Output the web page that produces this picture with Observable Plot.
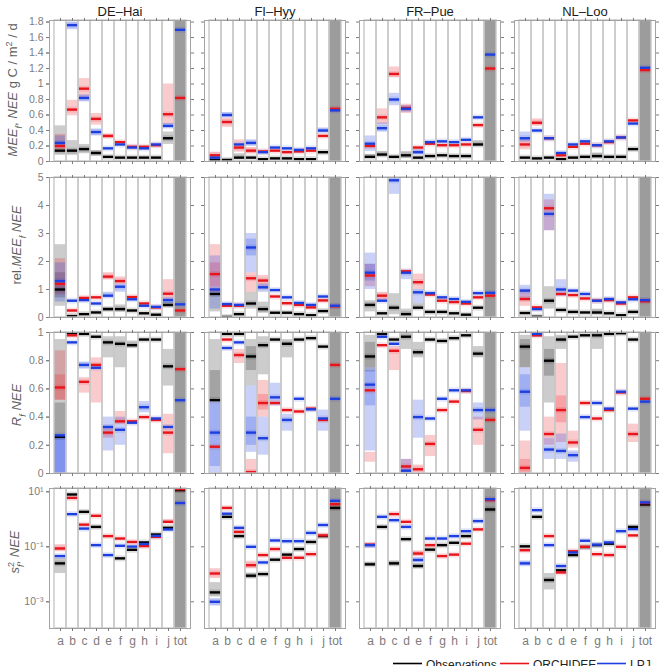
<!DOCTYPE html>
<html>
<head>
<meta charset="utf-8">
<script src="https://cdn.jsdelivr.net/npm/d3@7"></script>
<script src="https://cdn.jsdelivr.net/npm/@observablehq/plot@0.6"></script>
<style>
  html, body { margin: 0; padding: 0; background: #fff; overflow: hidden; width: 663px; height: 666px; }
  #chart { position: relative; width: 663px; height: 666px; font-family: "Liberation Sans", Arial, Helvetica, sans-serif; }
  #chart svg { position: absolute; left: 0; display: block; }
</style>
</head>
<body>
<div id="chart"></div>
<script>
// Sites (panel columns) and flux partitioning categories (bars within a panel)
const sites = ["DE–Hai", "FI–Hyy", "FR–Pue", "NL–Loo"];
const cats = ["a", "b", "c", "d", "e", "f", "g", "h", "i", "j", "tot"];

// ---- Row 1: MEE_f and NEE, g C / m2 / d (one list of 11 values per site) ----
const meeObs = [
  [0.14, 0.14, 0.16, 0.11, 0.06, 0.05, 0.05, 0.05, 0.05, 0.30, null],
  [0.02, 0.02, 0.05, 0.05, 0.03, 0.04, 0.04, 0.03, 0.03, 0.12, null],
  [0.06, 0.09, 0.06, 0.08, 0.05, 0.07, 0.08, 0.07, 0.07, 0.22, null],
  [0.05, 0.04, 0.05, 0.03, 0.05, 0.06, 0.07, 0.06, 0.06, 0.16, null]
];
const meeOrc = [
  [0.20, 0.67, 0.94, 0.55, 0.33, 0.25, 0.19, 0.19, 0.21, 0.61, 0.82],
  [0.08, 0.51, 0.18, 0.14, 0.13, 0.14, 0.12, 0.13, 0.14, 0.33, 0.68],
  [0.20, 0.57, 1.13, 0.69, 0.18, 0.23, 0.21, 0.21, 0.22, 0.47, 1.20],
  [0.22, 0.50, 0.30, 0.08, 0.19, 0.23, 0.21, 0.25, 0.31, 0.53, 1.18]
];
const meeLpj = [
  [0.24, 1.76, 0.82, 0.38, 0.17, 0.22, 0.18, 0.17, 0.22, 0.46, 1.70],
  [0.05, 0.60, 0.22, 0.24, 0.12, 0.18, 0.17, 0.15, 0.17, 0.40, 0.66],
  [0.23, 0.43, 0.80, 0.68, 0.12, 0.25, 0.26, 0.25, 0.28, 0.57, 1.38],
  [0.30, 0.40, 0.30, 0.11, 0.22, 0.26, 0.21, 0.26, 0.31, 0.49, 1.21]
];
// uncertainty ranges: [site index, category, low, high]
const meeObsBand = [[0,"a",0.08,0.46],[0,"b",0.08,0.27],[0,"c",0.10,0.22],[0,"d",0.07,0.14],[0,"j",0.22,0.38],
  [1,"c",0.03,0.10],[2,"a",0.04,0.09],[2,"b",0.06,0.13],[2,"d",0.04,0.13],[2,"j",0.19,0.27],[3,"g",0.04,0.11]];
const meeOrcBand = [[0,"a",0.15,0.35],[0,"b",0.59,0.79],[0,"c",0.82,1.07],[0,"d",0.47,0.62],[0,"e",0.30,0.35],[0,"j",0.48,1.0],
  [1,"a",0.04,0.12],[1,"b",0.44,0.56],[1,"c",0.12,0.28],[1,"d",0.10,0.18],
  [2,"b",0.48,0.68],[2,"c",1.08,1.22],[2,"d",0.62,0.74],[3,"a",0.15,0.28],[3,"b",0.46,0.55]];
const meeLpjBand = [[0,"a",0.18,0.33],[0,"b",1.70,1.80],[0,"c",0.77,0.86],[0,"d",0.33,0.42],[0,"j",0.43,0.49],
  [1,"a",0.02,0.08],[1,"b",0.57,0.63],[1,"d",0.20,0.28],[1,"j",0.37,0.43],
  [2,"a",0.13,0.33],[2,"b",0.38,0.50],[2,"c",0.72,0.88],[2,"d",0.64,0.72],[2,"e",0.09,0.15],[3,"a",0.25,0.38]];

// ---- Row 2: relative MEE_f of NEE ----
const relObs = [
  [1.00, 0.05, 0.12, 0.18, 0.30, 0.30, 0.25, 0.15, 0.10, 0.45, null],
  [0.84, 0.02, 0.12, 0.50, 0.30, 0.17, 0.17, 0.12, 0.08, 0.23, null],
  [0.45, 0.15, 0.35, 0.12, 0.35, 0.20, 0.20, 0.15, 0.10, 0.35, null],
  [0.16, 0.03, 0.60, 0.27, 0.20, 0.18, 0.18, 0.15, 0.08, 0.20, null]
];
const relOrc = [
  [1.20, 0.25, 0.70, 0.72, 1.46, 1.30, 0.73, 0.50, 0.36, 0.85, 0.25],
  [1.55, 0.42, 0.42, 1.40, 1.32, 0.75, 0.51, 0.45, 0.36, 0.61, 0.40],
  [1.50, 0.78, null, 1.65, 1.26, 0.82, 0.60, 0.55, 0.50, 0.72, 0.78],
  [0.66, 0.36, 3.90, 0.84, 0.80, 0.68, 0.60, 0.62, 0.50, 0.72, 0.58]
];
const relLpj = [
  [1.30, 0.60, 0.62, 0.50, 0.78, 1.10, 0.65, 0.42, 0.38, 0.62, 0.47],
  [1.00, 0.48, 0.45, 2.50, 1.08, 0.98, 0.72, 0.52, 0.45, 0.75, 0.42],
  [1.60, 0.60, 4.90, 1.60, 0.90, 0.87, 0.72, 0.66, 0.56, 0.87, 0.88],
  [0.96, 0.30, 3.70, 1.00, 0.96, 0.84, 0.60, 0.66, 0.54, 0.65, 0.62]
];
const relObsBand = [[0,"a",0.4,2.6],[0,"a",0.7,1.6],[0,"e",0.22,0.36],[0,"f",0.2,0.45],[0,"j",0.35,0.55],
  [1,"a",0.2,1.0],[1,"d",0.3,0.9],[1,"e",0.15,0.55],[2,"a",0.2,0.6],[2,"c",0.1,0.85],[2,"d",0.05,0.3],[2,"e",0.3,0.5],
  [3,"c",0.3,1.1],[3,"g",0.1,0.3]];
const relOrcBand = [[0,"a",0.8,2.1],[0,"e",1.35,1.6],[0,"f",1.2,1.45],[0,"j",0.6,1.35],
  [1,"a",0.9,2.6],[1,"a",1.1,1.95],[1,"d",0.9,1.6],[1,"e",1.0,1.5],[2,"a",1.1,1.9],[2,"b",0.6,0.9],[2,"e",1.0,1.55],
  [3,"a",0.4,1.0],[3,"c",3.1,4.2]];
const relLpjBand = [[0,"a",0.55,1.95],[0,"e",0.7,0.9],[0,"f",0.9,1.2],[0,"j",0.5,0.7],
  [1,"a",0.3,2.2],[1,"d",1.6,3.0],[1,"d",2.2,2.8],[1,"e",0.9,1.2],[2,"a",1.0,2.3],[2,"a",1.3,1.9],[2,"c",4.4,5.0],[2,"d",1.35,1.7],[2,"e",0.5,1.0],
  [3,"a",0.6,1.15],[3,"c",3.1,4.4],[3,"d",0.75,1.35]];

// ---- Row 3: R_f NEE ----
const rfObs = [
  [0.26, 0.995, 0.99, 0.97, 0.93, 0.92, 0.91, 0.95, 0.95, 0.76, null],
  [0.52, 0.99, 0.99, 0.83, 0.91, 0.95, 0.92, 0.95, 0.96, 0.90, null],
  [0.83, 0.99, 0.95, 0.97, 0.86, 0.95, 0.94, 0.96, 0.98, 0.85, null],
  [0.90, 0.99, 0.80, 0.95, 0.97, 0.98, 0.98, 0.99, 0.995, 0.95, null]
];
const rfOrc = [
  [0.61, 0.98, 0.65, 0.77, 0.29, 0.37, 0.37, 0.40, 0.38, 0.29, 0.74],
  [0.19, 0.95, 0.84, 0.01, 0.50, 0.50, 0.45, 0.44, 0.46, 0.38, 0.77],
  [0.59, 0.91, 0.87, 0.05, 0.03, 0.21, 0.45, 0.51, 0.585, 0.31, 0.38],
  [0.04, 0.98, 0.28, 0.45, 0.22, 0.50, 0.39, 0.45, 0.575, 0.28, 0.53]
];
const rfLpj = [
  [0.27, 0.93, 0.77, 0.75, 0.33, 0.31, 0.36, 0.47, 0.39, 0.33, 0.52],
  [0.29, 0.89, 0.93, 0.29, 0.25, 0.54, 0.38, 0.53, 0.455, 0.39, 0.53],
  [0.63, 0.97, 0.92, 0.02, 0.40, 0.39, 0.53, 0.59, 0.59, 0.45, 0.45],
  [0.58, 0.99, 0.17, 0.16, 0.13, 0.40, 0.50, 0.46, 0.58, 0.46, 0.51]
];
const rfObsBand = [[0,"a",0.25,0.95],[0,"a",0.25,0.5],[0,"e",0.82,0.97],[0,"f",0.75,0.97],[0,"g",0.89,0.94],[0,"j",0.62,0.88],
  [1,"a",0.52,0.95],[1,"a",0.52,0.73],[1,"d",0.62,0.95],[1,"d",0.73,0.9],[1,"e",0.7,0.97],[1,"g",0.82,0.95],
  [2,"a",0.72,0.98],[2,"a",0.75,0.93],[2,"d",0.88,1.0],[2,"e",0.82,0.93],[2,"j",0.82,0.9],
  [3,"a",0.75,0.98],[3,"a",0.75,0.95],[3,"c",0.5,0.97],[3,"c",0.69,0.88],[3,"d",0.88,0.98],[3,"g",0.88,1.0]];
const rfOrcBand = [[0,"a",0.52,0.87],[0,"a",0.52,0.7],[0,"c",0.57,0.68],[0,"d",0.5,0.82],[0,"e",0.25,0.32],[0,"f",0.35,0.44],[0,"j",0.14,0.42],
  [1,"c",0.78,0.88],[1,"d",0.0,0.1],[1,"e",0.4,0.66],[1,"e",0.45,0.56],[2,"a",0.08,0.15],[2,"c",0.73,0.9],[2,"d",0.0,0.1],[2,"e",0.0,0.06],
  [2,"f",0.12,0.27],[2,"j",0.2,0.4],[3,"a",0.0,0.23],[3,"a",0.0,0.1],[3,"c",0.2,0.4],[3,"d",0.22,0.78],[3,"d",0.36,0.55],[3,"e",0.18,0.3],[3,"j",0.22,0.35]];
const rfLpjBand = [[0,"a",0.0,0.27],[0,"a",0.0,0.25],[0,"a",0.0,0.25],[0,"c",0.74,0.79],[0,"e",0.16,0.40],[0,"f",0.2,0.4],[0,"h",0.43,0.51],
  [1,"a",0.0,0.52],[1,"a",0.05,0.5],[1,"d",0.15,0.62],[1,"d",0.2,0.4],[1,"e",0.13,0.4],[1,"f",0.48,0.64],[1,"g",0.3,0.42],[1,"j",0.3,0.45],
  [2,"a",0.16,0.75],[2,"a",0.48,0.73],[2,"d",0.0,0.1],[2,"e",0.25,0.52],[2,"j",0.38,0.5],
  [3,"a",0.3,0.75],[3,"a",0.47,0.7],[3,"c",0.1,0.25],[3,"d",0.1,0.28],[3,"e",0.08,0.16]];

// ---- Row 4: s2_f, NEE (log scale) ----
const s2Obs = [
  [0.025, 8.0, 1.87, 0.53, null, 0.038, 0.078, 0.144, 0.28, 0.49, 11.5],
  [0.0022, 1.23, 0.245, 0.0089, 0.0102, 0.034, 0.052, 0.083, 0.15, 0.245, 2.6],
  [0.023, 0.53, 0.025, 0.19, 0.020, 0.079, 0.115, 0.14, 0.245, null, 2.28],
  [0.104, 1.23, 0.0062, 0.014, 0.05, 0.098, 0.115, 0.13, null, 0.53, 3.46]
];
const s2Orc = [
  [0.087, 6.0, 0.64, 1.34, 0.245, 0.2, 0.15, 0.106, 0.23, 0.81, 12.5],
  [0.0107, 2.6, 0.35, 0.0215, 0.05, 0.083, 0.04, 0.04, 0.054, 0.26, 3.55],
  [0.12, null, 1.55, 0.81, 0.057, 0.115, 0.046, 0.052, 0.13, 0.43, 5.0],
  [0.075, null, 0.245, 0.0117, 0.069, 0.1, 0.054, 0.05, 0.1, 0.26, 3.9]
];
const s2Lpj = [
  [0.046, 1.54, 0.46, 0.115, 0.05, 0.109, 0.102, 0.126, 0.25, 0.43, 3.9],
  [0.001, 1.6, 0.49, 0.1, 0.027, 0.17, 0.16, 0.16, 0.32, 0.62, 4.7],
  [0.115, 1.23, 0.93, 0.53, 0.033, 0.2, 0.2, 0.245, 0.37, 0.86, 5.4],
  [0.025, 2.15, 0.115, 0.02, 0.062, 0.166, 0.12, 0.144, 0.37, 0.44, 4.1]
];
const s2ObsBand = [[0,"a",0.0107,0.038],[1,"a",0.0015,0.005],[1,"d",0.007,0.011],[2,"a",0.02,0.027],[2,"c",0.02,0.03],
  [2,"e",0.017,0.024],[3,"c",0.0027,0.0107]];
const s2OrcBand = [[0,"a",0.07,0.12],[0,"j",0.7,0.95],[1,"a",0.007,0.016],[1,"d",0.016,0.03],[2,"e",0.045,0.07]];
const s2LpjBand = [[1,"a",0.0007,0.0013],[2,"a",0.09,0.13],[2,"e",0.028,0.04],[3,"a",0.02,0.03]];

// ---- tick values ----
const meeTicks = [0, 0.2, 0.4, 0.6, 0.8, 1, 1.2, 1.4, 1.6, 1.8];
const relTicks = [0, 1, 2, 3, 4, 5];
const rfTicks = [0, 0.2, 0.4, 0.6, 0.8, 1];
const s2Ticks = [10, 0.1, 0.001];
const s2TickLabels = ["10¹", "10⁻¹", "10⁻³"];

const modelColor = {obs: "#000000", orc: "#e8141c", lpj: "#1e3fe0"};
const bandOpacity = {obs: 0.2, orc: 0.22, lpj: 0.24};
const models = ["obs", "orc", "lpj"];
const fontFamily = "'Liberation Sans', Arial, Helvetica, sans-serif";

function longTable(obs, orc, lpj) {
  const out = [];
  [[obs, "obs"], [orc, "orc"], [lpj, "lpj"]].forEach(([m, model]) =>
    m.forEach((vals, s) => vals.forEach((v, c) => {
      if (v != null) out.push({site: sites[s], cat: cats[c], model, v});
    })));
  return out;
}
function bandTable(list, model) {
  return list.map(([s, cat, lo, hi]) => ({site: sites[s], cat, model, lo, hi}));
}

const chart = d3.select("#chart");

function drawRow(spec) {
  const vals = longTable(spec.obs, spec.orc, spec.lpj);
  const bands = [...bandTable(spec.bands[0], "obs"), ...bandTable(spec.bands[1], "orc"), ...bandTable(spec.bands[2], "lpj")];
  const [d0, d1] = spec.domain;
  const marks = [
    Plot.barY(cats.slice(0, 10), {x: d => d, y1: () => d0, y2: () => d1, fill: "white"}),
    Plot.barY(["tot"], {x: d => d, y1: () => d0, y2: () => d1, fill: "#9c9c9c"}),
    ...models.map(m => Plot.barY(bands.filter(d => d.model === m),
      {fx: "site", x: "cat", y1: "lo", y2: "hi", fill: modelColor[m], fillOpacity: bandOpacity[m], clip: true})),
    ...models.map(m => Plot.tickY(vals.filter(d => d.model === m),
      {fx: "site", x: "cat", y: "v", stroke: modelColor[m], strokeWidth: 6, strokeOpacity: 0.13, clip: true})),
    ...models.map(m => Plot.tickY(vals.filter(d => d.model === m),
      {fx: "site", x: "cat", y: "v", stroke: modelColor[m], strokeWidth: 2.4, clip: true})),
    Plot.barY(cats, {x: d => d, y1: () => d0, y2: () => d1, fill: "none", stroke: "#c8c8c8", strokeWidth: 1.4}),
    Plot.frame({stroke: "#a3a3a3"}),
    Plot.axisY(spec.ticks, {anchor: "left", tickSize: 3, tickPadding: 3, tickFormat: spec.fmt, label: null, fontSize: 10.5}),
    Plot.axisY(spec.ticks, {anchor: "left", tickSize: 3, tickFormat: () => "", label: null, facetAnchor: null}),
    Plot.axisY(spec.ticks, {anchor: "right", tickSize: 3, tickFormat: () => "", label: null, facetAnchor: null}),
    Plot.axisX({anchor: "bottom", tickSize: 3, tickPadding: 5, tickFormat: spec.catLabels ? (d => d) : (() => ""), label: null, fontSize: 12}),
    Plot.axisX({anchor: "top", tickSize: 3, tickFormat: () => "", label: null})
  ];
  if (spec.titles) {
    marks.push(Plot.axisFx({anchor: "top", label: null, tickSize: 0, tickPadding: 5, fontSize: 13, fill: "#1a1a1a"}));
  }
  const svg = Plot.plot({
    width: 663,
    height: spec.height,
    marginTop: spec.marginTop,
    marginBottom: spec.marginBottom,
    marginLeft: 48,
    marginRight: 6,
    style: {fontFamily, fontSize: "10.5px", color: "#7c7c7c", background: "transparent"},
    fx: spec.titles ? {domain: sites, paddingInner: 0.09, paddingOuter: 0, label: null}
                    : {domain: sites, paddingInner: 0.09, paddingOuter: 0, axis: null, label: null},
    x: {domain: cats, padding: 0},
    y: {type: spec.type || "linear", domain: spec.domain},
    marks
  });
  svg.style.top = spec.top + "px";
  chart.node().appendChild(svg);

  // rotated y-axis title with italic symbols and sub/superscripts
  const t = d3.select(svg).append("text")
    .attr("transform", `translate(${spec.label.x},${spec.label.y}) rotate(-90)`)
    .attr("text-anchor", "middle")
    .attr("dy", "0.35em")
    .attr("fill", "#5f5f5f")
    .attr("font-family", fontFamily)
    .attr("font-size", 13);
  spec.label.parts.forEach(([txt, kind]) => {
    const ts = t.append("tspan").text(txt);
    if (kind.includes("i")) ts.attr("font-style", "italic");
    if (kind.includes("sub")) ts.attr("baseline-shift", "sub").attr("font-size", 9);
    if (kind.includes("sup")) ts.attr("baseline-shift", "super").attr("font-size", 9);
    if (kind.includes("back")) ts.attr("dx", -5);
  });
}

drawRow({
  top: 0, height: 170, marginTop: 20, marginBottom: 9, titles: true, catLabels: false,
  domain: [0, 1.82], ticks: meeTicks, fmt: d => String(+d.toFixed(1)),
  obs: meeObs, orc: meeOrc, lpj: meeLpj, bands: [meeObsBand, meeOrcBand, meeLpjBand],
  label: {x: 12, y: 90, parts: [["MEE", "i"], ["f", "i sub"], [", ", ""], ["NEE", "i"], [" g C / m", ""], ["2", "sup"], [" / d", ""]]}
});
drawRow({
  top: 170, height: 155, marginTop: 7, marginBottom: 8, titles: false, catLabels: false,
  domain: [0, 5], ticks: relTicks, fmt: d => String(d),
  obs: relObs, orc: relOrc, lpj: relLpj, bands: [relObsBand, relOrcBand, relLpjBand],
  label: {x: 16, y: 75, parts: [["rel.", ""], ["MEE", "i"], ["f", "i sub"], [" ", ""], ["NEE", "i"]]}
});
drawRow({
  top: 325, height: 155, marginTop: 7, marginBottom: 7, titles: false, catLabels: false,
  domain: [0, 1], ticks: rfTicks, fmt: d => String(+d.toFixed(1)),
  obs: rfObs, orc: rfOrc, lpj: rfLpj, bands: [rfObsBand, rfOrcBand, rfLpjBand],
  label: {x: 16, y: 80, parts: [["R", "i"], ["f", "i sub"], [" ", ""], ["NEE", "i"]]}
});
drawRow({
  top: 480, height: 176, marginTop: 8, marginBottom: 28, titles: false, catLabels: true,
  type: "log", domain: [1.07e-4, 13.2], ticks: s2Ticks, fmt: d => s2TickLabels[s2Ticks.indexOf(d)],
  obs: s2Obs, orc: s2Orc, lpj: s2Lpj, bands: [s2ObsBand, s2OrcBand, s2LpjBand],
  label: {x: 14, y: 72, parts: [["s", "i"], ["2", "sup"], ["f", "i sub back"], [", ", ""], ["NEE", "i"]]}
});

// legend (line swatches) along the bottom edge
const legendItems = [
  {name: "Observations", model: "obs", x: 393},
  {name: "ORCHIDEE", model: "orc", x: 500},
  {name: "LPJ", model: "lpj", x: 597}
];
const leg = chart.append("svg").attr("width", 663).attr("height", 30).style("top", "648px");
legendItems.forEach(it => {
  leg.append("line").attr("x1", it.x).attr("x2", it.x + 29).attr("y1", 15.5).attr("y2", 15.5)
    .attr("stroke", modelColor[it.model]).attr("stroke-width", 1.6);
  leg.append("text").attr("x", it.x + 33).attr("y", 20.5).text(it.name)
    .attr("font-family", fontFamily).attr("font-size", 12).attr("fill", "#222");
});
</script>
</body>
</html>
